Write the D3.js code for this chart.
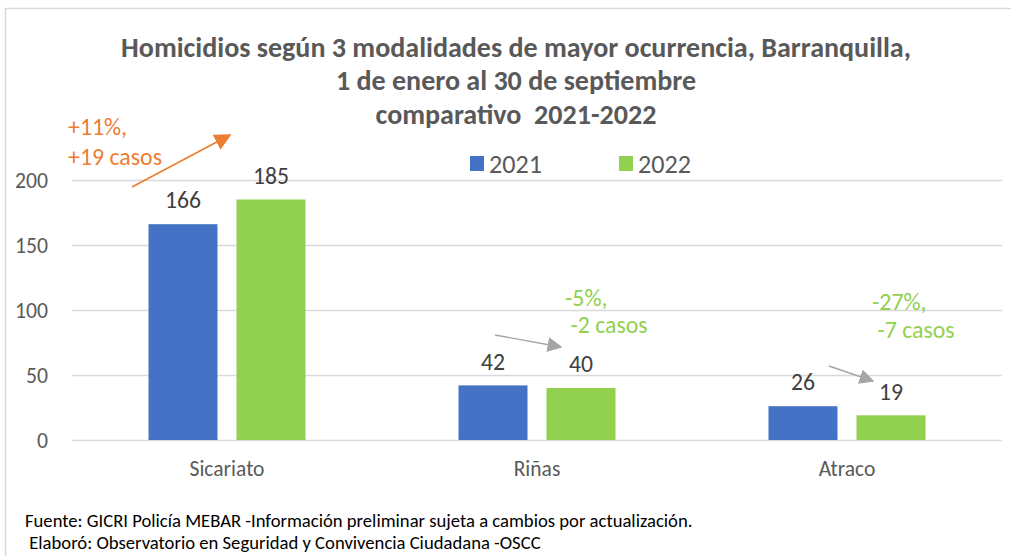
<!DOCTYPE html>
<html><head><meta charset="utf-8">
<script src="https://cdn.jsdelivr.net/npm/d3@7"></script>
<style>
body{margin:0;background:#fff;}
svg{display:block;font-family:Carlito,Calibri,Lato,sans-serif;}
</style></head>
<body><svg id="c" width="1011" height="556"></svg>
<script>
const categories = ["Sicariato","Riñas","Atraco"];
const years = ["2021","2022"];
const values2021 = [166,42,26];
const values2022 = [185,40,19];
const yTicks = [0,50,100,150,200];
const colors = ["#4472C4","#92D050"];
const titleLines = ["Homicidios según 3 modalidades de mayor ocurrencia, Barranquilla,","1 de enero al 30 de septiembre","comparativo  2021-2022"];
const annotations = [
  {cat:"Sicariato", lines:["+11%,","+19 casos"], color:"#ED7D31", arrowColor:"#ED7D31"},
  {cat:"Riñas", lines:["-5%,"," -2 casos"], color:"#92D050", arrowColor:"#A5A5A5"},
  {cat:"Atraco", lines:["-27%,"," -7 casos"], color:"#92D050", arrowColor:"#A5A5A5"}
];
const footer = ["Fuente: GICRI Policía MEBAR -Información preliminar sujeta a cambios por actualización."," Elaboró: Observatorio en Seguridad y Convivencia Ciudadana -OSCC"];

const svg = d3.select("#c");

// font-size fitting helper (match widths of reference typography)
const probe = svg.append("text").attr("x",-9999).attr("y",-9999).style("white-space","pre");
function fit(str, weight, target){
  probe.attr("font-weight",weight).attr("font-size",100).text(str);
  const w = probe.node().getComputedTextLength();
  return 100*target/w;
}
const fsTitle = fit(titleLines[0],"bold",790);
const fsLegend = fit("2021","normal",53);
const fsTick = fit("200","normal",33);
const fsVal = fit("166","normal",36);
const fsCat = fit("Sicariato","normal",75);
const fsAnn = fit("+19 casos","normal",94);
const fsFoot = fit(footer[0],"normal",668);
probe.remove();

// frame
svg.append("path").attr("d","M5.5,556 V8.5 H1011").attr("fill","none").attr("stroke","#D9D9D9").attr("stroke-width",1.5);

const y = d3.scaleLinear().domain([0,200]).range([440,180]);
const x0 = d3.scaleBand().domain(categories).range([72,1002]);
const x1 = d3.scaleBand().domain(years).range([-78.5,78.5]).paddingInner(19/88);

// gridlines
svg.append("g").selectAll("line").data(yTicks).join("line")
  .attr("x1",72).attr("x2",1002).attr("y1",d=>y(d)+0.5).attr("y2",d=>y(d)+0.5)
  .attr("stroke","#D9D9D9").attr("stroke-width",1.3);

// y tick labels
svg.append("g").selectAll("text").data(yTicks).join("text")
  .attr("x",48).attr("y",d=>y(d)).attr("dy","0.35em").attr("text-anchor","end")
  .attr("fill","#595959").attr("font-size",fsTick).text(d=>d);

const data = categories.map((c,i)=>({cat:c, vals:[{year:"2021",v:values2021[i]},{year:"2022",v:values2022[i]}]}));
const cx = c => x0(c)+x0.bandwidth()/2;

const g = svg.append("g");
data.forEach(d=>{
  d.vals.forEach((e,j)=>{
    const bx = cx(d.cat)+x1(e.year);
    g.append("rect").attr("x",bx).attr("y",y(e.v)).attr("width",x1.bandwidth()).attr("height",y(0)-y(e.v)).attr("fill",colors[j]);
    g.append("text").attr("x",bx+x1.bandwidth()/2).attr("y",y(e.v)-24).attr("dy","0.35em").attr("text-anchor","middle")
      .attr("fill","#404040").attr("font-size",fsVal).text(e.v);
  });
});

// category labels
svg.append("g").selectAll("text").data(categories).join("text")
  .attr("x",d=>cx(d)).attr("y",468).attr("dy","0.35em").attr("text-anchor","middle")
  .attr("fill","#595959").attr("font-size",fsCat).text(d=>d);

// title
svg.append("g").selectAll("text").data(titleLines).join("text")
  .attr("x",516).attr("y",(d,i)=>47+i*33.5).attr("dy","0.35em").attr("text-anchor","middle")
  .attr("fill","#595959").attr("font-weight","bold").attr("font-size",fsTitle).style("white-space","pre").text(d=>d);

// legend
const leg = svg.append("g");
years.forEach((yr,i)=>{
  const lx = 470 + i*149;
  leg.append("rect").attr("x",lx).attr("y",156).attr("width",14).attr("height",15).attr("fill",colors[i]);
  leg.append("text").attr("x",lx+19).attr("y",163.5).attr("dy","0.35em").attr("fill","#595959").attr("font-size",fsLegend).text(yr);
});

// annotations
const defs = svg.append("defs");
["#ED7D31","#A5A5A5"].forEach((c,i)=>{
  defs.append("marker").attr("id","ah"+i).attr("viewBox","0 0 10 10").attr("refX",9).attr("refY",5)
    .attr("markerWidth",i?15:17).attr("markerHeight",i?15:17).attr("markerUnits","userSpaceOnUse").attr("orient","auto")
    .append("path").attr("d","M0,0 L10,5 L0,10 Z").attr("fill",c);
});
const annPos = [
  {tx:68, ty:127, lh:30, a:[132,187,230,135], w:1.6, m:0},
  {tx:565, ty:298, lh:27, a:[495,335,561,347], w:1.4, m:1},
  {tx:872, ty:302, lh:28, a:[829,366,873,381], w:1.4, m:1}
];
annotations.forEach((a,i)=>{
  const p = annPos[i];
  a.lines.forEach((l,k)=>{
    svg.append("text").attr("x",p.tx).attr("y",p.ty+k*p.lh).attr("dy","0.35em")
      .attr("fill",a.color).attr("font-size",fsAnn).style("white-space","pre").text(l);
  });
  svg.append("line").attr("x1",p.a[0]).attr("y1",p.a[1]).attr("x2",p.a[2]).attr("y2",p.a[3])
    .attr("stroke",a.arrowColor).attr("stroke-width",p.w).attr("marker-end",`url(#ah${p.m})`);
});

// footer
svg.append("g").selectAll("text").data(footer).join("text")
  .attr("x",25).attr("y",(d,i)=>520+i*22).attr("dy","0.35em").attr("fill","#000")
  .attr("font-size",fsFoot).style("white-space","pre").text(d=>d);
</script></body></html>
